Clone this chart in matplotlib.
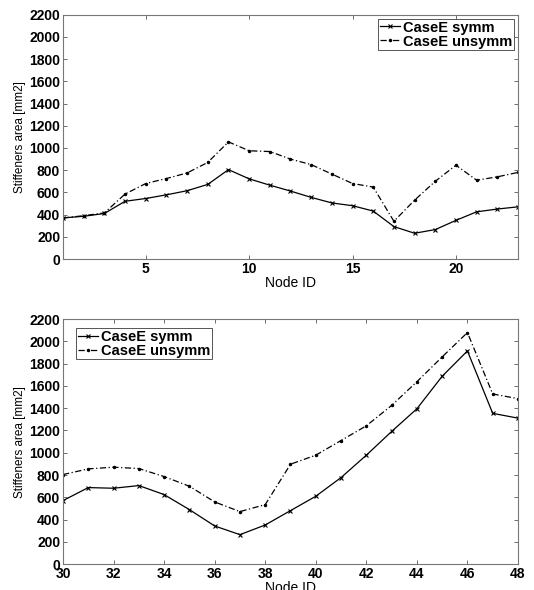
import matplotlib
matplotlib.use('Agg')
import matplotlib.pyplot as plt
import numpy as np

plt.rcParams['font.family'] = ['Liberation Sans', 'DejaVu Sans']

# upper panel: nodes 1..23
node_a = list(range(1, 24))
symm_a = [370, 385, 410, 520, 545, 578, 615, 672, 805, 722, 665, 612,
          555, 505, 480, 432, 292, 232, 265, 348, 425, 450, 470]
unsymm_a = [370, 390, 415, 585, 680, 725, 775, 870, 1055, 975, 968, 900,
            850, 765, 680, 648, 340, 530, 700, 845, 710, 740, 780]

# lower panel: nodes 30..48
node_b = list(range(30, 49))
symm_b = [570, 687, 681, 705, 624, 489, 342, 264, 351, 480, 609, 777,
          978, 1191, 1395, 1687, 1915, 1354, 1311]
unsymm_b = [804, 855, 870, 858, 786, 699, 558, 471, 534, 897, 978, 1110,
            1242, 1425, 1638, 1861, 2080, 1528, 1486]

labels = ['CaseE symm', 'CaseE unsymm']
yticks = list(range(0, 2201, 200))

fig = plt.figure(figsize=(5.34, 5.90), dpi=100)
ax1 = fig.add_axes([0.118, 0.561, 0.852, 0.414])
ax2 = fig.add_axes([0.118, 0.044, 0.852, 0.415])


def draw(ax, x, s, u, xticks, loc):
    ax.plot(x, s, '-', color='black', lw=0.9, marker='x', ms=3.5,
            mew=0.8, label=labels[0])
    ax.plot(x, u, color='black', lw=0.9, ls=(0, (5, 2, 1, 2)), marker='.',
            ms=3, label=labels[1])
    ax.set_xlim(x[0], x[-1])
    ax.set_ylim(0, 2200)
    ax.set_yticks(yticks)
    ax.set_xticks(xticks)
    ax.tick_params(direction='in', top=True, right=True, length=3,
                   labelsize=10, width=0.6, color='#555555', pad=2)
    for t in ax.get_xticklabels() + ax.get_yticklabels():
        t.set_fontweight('bold')
    for sp in ax.spines.values():
        sp.set_color('#777777')
        sp.set_linewidth(0.8)
    ax.set_xlabel('Node ID', fontsize=10, labelpad=0)
    ax.set_ylabel('Stiffeners area [mm2]', fontsize=8.5, labelpad=2)
    leg = ax.legend(loc=loc, fancybox=False, framealpha=1, borderpad=0.1,
                    handlelength=1.4, handletextpad=0.2, labelspacing=0.0,
                    borderaxespad=0.3,
                    prop={'size': 10.5, 'weight': 'bold'})
    leg.get_frame().set_edgecolor('#555555')
    leg.get_frame().set_linewidth(0.7)


draw(ax1, node_a, symm_a, unsymm_a, [5, 10, 15, 20], 'upper right')
draw(ax2, node_b, symm_b, unsymm_b, list(range(30, 49, 2)), 'upper left')
ax2.legend_.set_bbox_to_anchor((0.02, 0.98))

fig.savefig('out.png', dpi=100)
